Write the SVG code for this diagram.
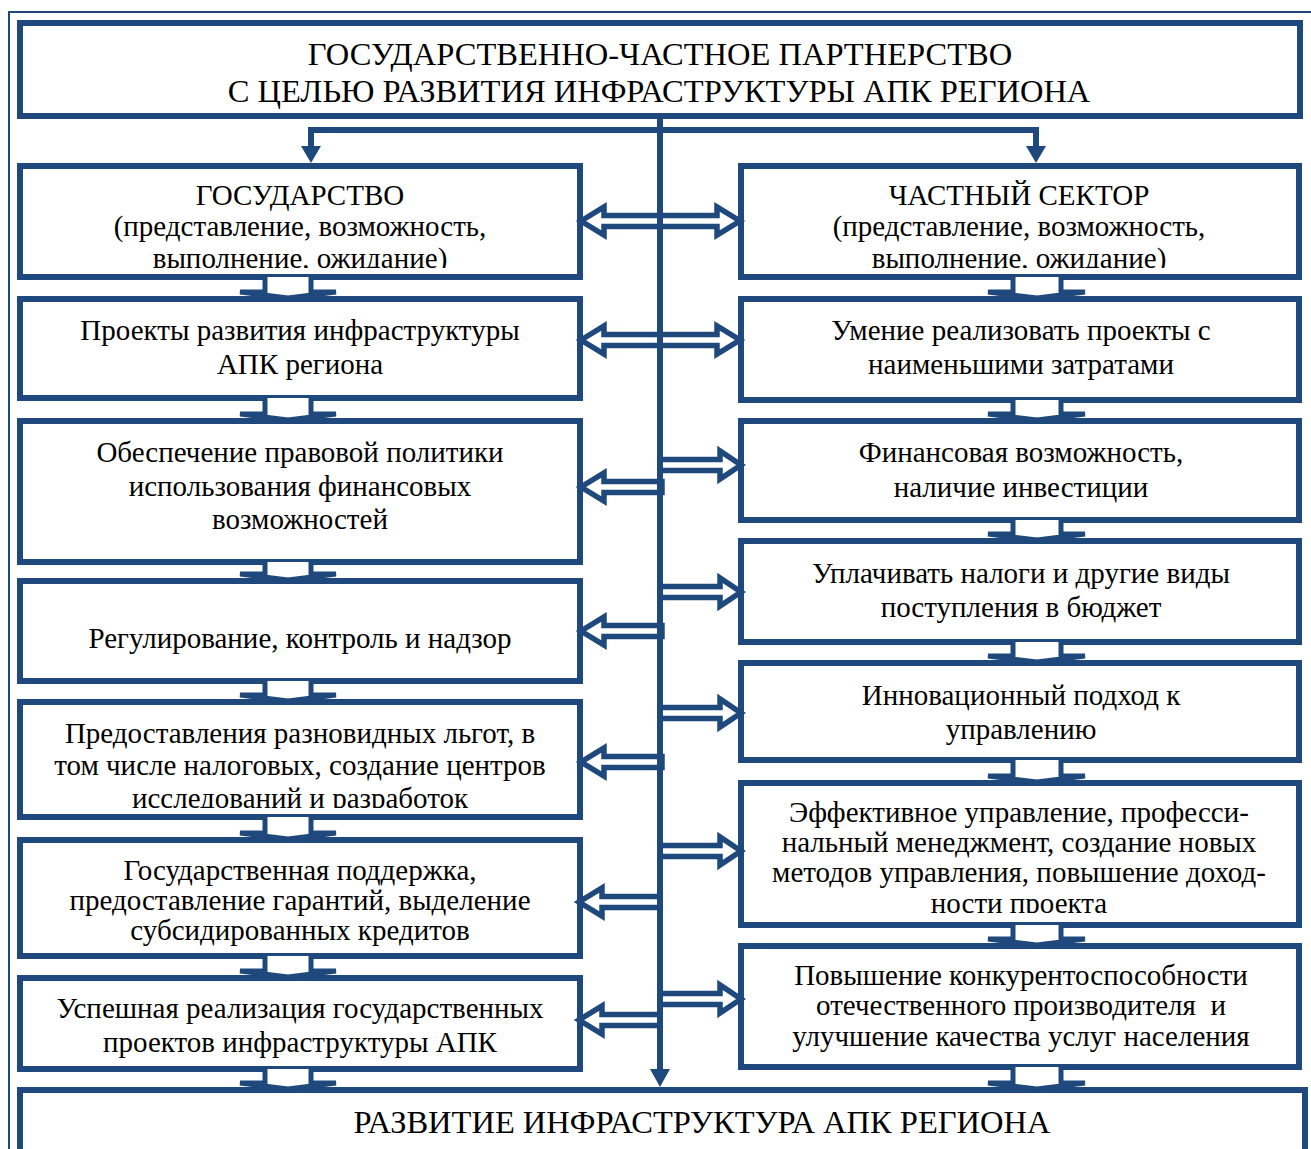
<svg xmlns="http://www.w3.org/2000/svg" width="1311" height="1149" viewBox="0 0 1311 1149">
<style>
.box{fill:#fff;stroke:#1F497D;stroke-width:6}
.t{font-family:"Liberation Serif","Times New Roman",serif;font-size:29px;fill:#000;text-anchor:middle}
.tb{font-size:32.5px}
.arr{fill:#fff;stroke:#1F497D;stroke-width:5.5;stroke-linejoin:miter}
.dn{fill:#fff;stroke:#1F497D;stroke-width:5}
.ln{stroke:#1F497D;stroke-width:6;fill:none}
.hd{fill:#1F497D}
</style>
<defs>
<path id="ra" d="M0,-5.5 H60 V-14 L81,0 L60,14 V5.5 H0 Z"/>
<path id="la" d="M0,-5.5 H-58 V-14 L-81,0 L-58,14 V5.5 H0 Z"/>
<path id="da" d="M581,0 L604,-14 V-5.5 H717 V-14 L740,0 L717,14 V5.5 H604 V14 Z"/>
<clipPath id="c1"><rect x="0" y="0" width="1311" height="268"/></clipPath>
<clipPath id="c5"><rect x="0" y="0" width="1311" height="808"/></clipPath>
<clipPath id="c6"><rect x="0" y="0" width="1311" height="913"/></clipPath>
</defs>
<path d="M9,1149 V12 H1311" fill="none" stroke="#1F497D" stroke-width="2"/>

<g id="top">
<rect class="box" x="20" y="23" width="1280" height="93"/>
<text class="t tb" x="660" y="65">ГОСУДАРСТВЕННО-ЧАСТНОЕ ПАРТНЕРСТВО</text>
<text class="t tb" x="659" y="102">С ЦЕЛЬЮ РАЗВИТИЯ ИНФРАСТРУКТУРЫ АПК РЕГИОНА</text>
</g>

<g id="L1"><rect class="box" x="20" y="166" width="560" height="111"/>
<g clip-path="url(#c1)"><text class="t" x="300" y="205">ГОСУДАРСТВО</text>
<text class="t" x="300" y="236">(представление, возможность,</text>
<text class="t" x="300" y="268">выполнение, ожидание)</text></g></g>
<g id="L2"><rect class="box" x="20" y="299" width="560" height="99"/>
<text class="t" x="300" y="340">Проекты развития инфраструктуры</text>
<text class="t" x="300" y="374">АПК региона</text></g>
<g id="L3"><rect class="box" x="20" y="421" width="560" height="141"/>
<text class="t" x="300" y="462">Обеспечение правовой политики</text>
<text class="t" x="300" y="496">использования финансовых</text>
<text class="t" x="300" y="529">возможностей</text></g>
<g id="L4"><rect class="box" x="20" y="581" width="560" height="100"/>
<text class="t" x="300" y="648">Регулирование, контроль и надзор</text></g>
<g id="L5"><rect class="box" x="20" y="702" width="560" height="115"/>
<g clip-path="url(#c5)"><text class="t" x="300" y="743">Предоставления разновидных льгот, в</text>
<text class="t" x="300" y="775">том числе налоговых, создание центров</text>
<text class="t" x="300" y="808">исследований и разработок</text></g></g>
<g id="L6"><rect class="box" x="20" y="840" width="560" height="116"/>
<text class="t" x="300" y="880">Государственная поддержка,</text>
<text class="t" x="300" y="910">предоставление гарантий, выделение</text>
<text class="t" x="300" y="940">субсидированных кредитов</text></g>
<g id="L7"><rect class="box" x="20" y="978" width="560" height="91"/>
<text class="t" x="300" y="1018">Успешная реализация государственных</text>
<text class="t" x="300" y="1052">проектов инфраструктуры АПК</text></g>

<g id="R1"><rect class="box" x="741" y="166" width="558" height="111"/>
<g clip-path="url(#c1)"><text class="t" x="1019" y="205">ЧАСТНЫЙ СЕКТОР</text>
<text class="t" x="1019" y="236">(представление, возможность,</text>
<text class="t" x="1019" y="268">выполнение, ожидание)</text></g></g>
<g id="R2"><rect class="box" x="741" y="299" width="558" height="101"/>
<text class="t" x="1021" y="340">Умение реализовать проекты с</text>
<text class="t" x="1021" y="374">наименьшими затратами</text></g>
<g id="R3"><rect class="box" x="741" y="421" width="558" height="99"/>
<text class="t" x="1021" y="462">Финансовая возможность,</text>
<text class="t" x="1021" y="497">наличие инвестиции</text></g>
<g id="R4"><rect class="box" x="741" y="541" width="558" height="101"/>
<text class="t" x="1021" y="583">Уплачивать налоги и другие виды</text>
<text class="t" x="1021" y="617">поступления в бюджет</text></g>
<g id="R5"><rect class="box" x="741" y="663" width="558" height="97"/>
<text class="t" x="1021" y="705">Инновационный подход к</text>
<text class="t" x="1021" y="739">управлению</text></g>
<g id="R6"><rect class="box" x="741" y="783" width="558" height="142"/>
<g clip-path="url(#c6)"><text class="t" x="1019" y="822">Эффективное управление, професси-</text>
<text class="t" x="1019" y="852">нальный менеджмент, создание новых</text>
<text class="t" x="1019" y="882">методов управления, повышение доход-</text>
<text class="t" x="1019" y="913">ности проекта</text></g></g>
<g id="R7"><rect class="box" x="741" y="946" width="558" height="121"/>
<text class="t" x="1021" y="985">Повышение конкурентоспособности</text>
<text class="t" x="1021" y="1015" xml:space="preserve">отечественного производителя  и</text>
<text class="t" x="1021" y="1046">улучшение качества услуг населения</text></g>

<g id="bottom"><rect class="box" x="20" y="1090" width="1285" height="80"/>
<text class="t tb" x="702" y="1133">РАЗВИТИЕ ИНФРАСТРУКТУРА АПК РЕГИОНА</text></g>

<g id="connectors">
<path class="dn" d="M265,277 V292 H240 L288,298 L336,292 H311 V277"/>
<path class="dn" d="M265,398 V414 H240 L288,420 L336,414 H311 V398"/>
<path class="dn" d="M265,562 V574 H240 L288,580 L336,574 H311 V562"/>
<path class="dn" d="M265,681 V695 H240 L288,701 L336,695 H311 V681"/>
<path class="dn" d="M265,817 V833 H240 L288,839 L336,833 H311 V817"/>
<path class="dn" d="M265,956 V971 H240 L288,977 L336,971 H311 V956"/>
<path class="dn" d="M265,1069 V1083 H240 L288,1089 L336,1083 H311 V1069"/>

<path class="dn" d="M1013,277 V292 H988 L1037,298 L1085,292 H1061 V277"/>
<path class="dn" d="M1013,400 V414 H988 L1037,420 L1085,414 H1061 V400"/>
<path class="dn" d="M1013,520 V534 H988 L1037,540 L1085,534 H1061 V520"/>
<path class="dn" d="M1013,642 V656 H988 L1037,662 L1085,656 H1061 V642"/>
<path class="dn" d="M1013,760 V776 H988 L1037,782 L1085,776 H1061 V760"/>
<path class="dn" d="M1013,925 V939 H988 L1037,945 L1085,939 H1061 V925"/>
<path class="dn" d="M1013,1067 V1083 H988 L1037,1089 L1085,1083 H1061 V1067"/>

<use href="#da" class="arr" transform="translate(0,221)"/>
<use href="#da" class="arr" transform="translate(0,340)"/>
<use href="#ra" class="arr" transform="translate(660,465)"/>
<use href="#la" class="arr" transform="translate(662,487)"/>
<use href="#ra" class="arr" transform="translate(660,592)"/>
<use href="#la" class="arr" transform="translate(662,631)"/>
<use href="#ra" class="arr" transform="translate(660,713)"/>
<use href="#la" class="arr" transform="translate(662,762)"/>
<use href="#ra" class="arr" transform="translate(660,851)"/>
<use href="#la" class="arr" transform="translate(660,902)"/>
<use href="#ra" class="arr" transform="translate(660,999)"/>
<use href="#la" class="arr" transform="translate(660,1020)"/>

<path class="ln" d="M660,116 V1072"/>
<polygon class="hd" points="650,1069 670,1069 660,1087"/>
<path class="ln" d="M311,148 V130 H1036 V148"/>
<polygon class="hd" points="301,146 321,146 311,163"/>
<polygon class="hd" points="1026,146 1046,146 1036,163"/>
</g>
</svg>
